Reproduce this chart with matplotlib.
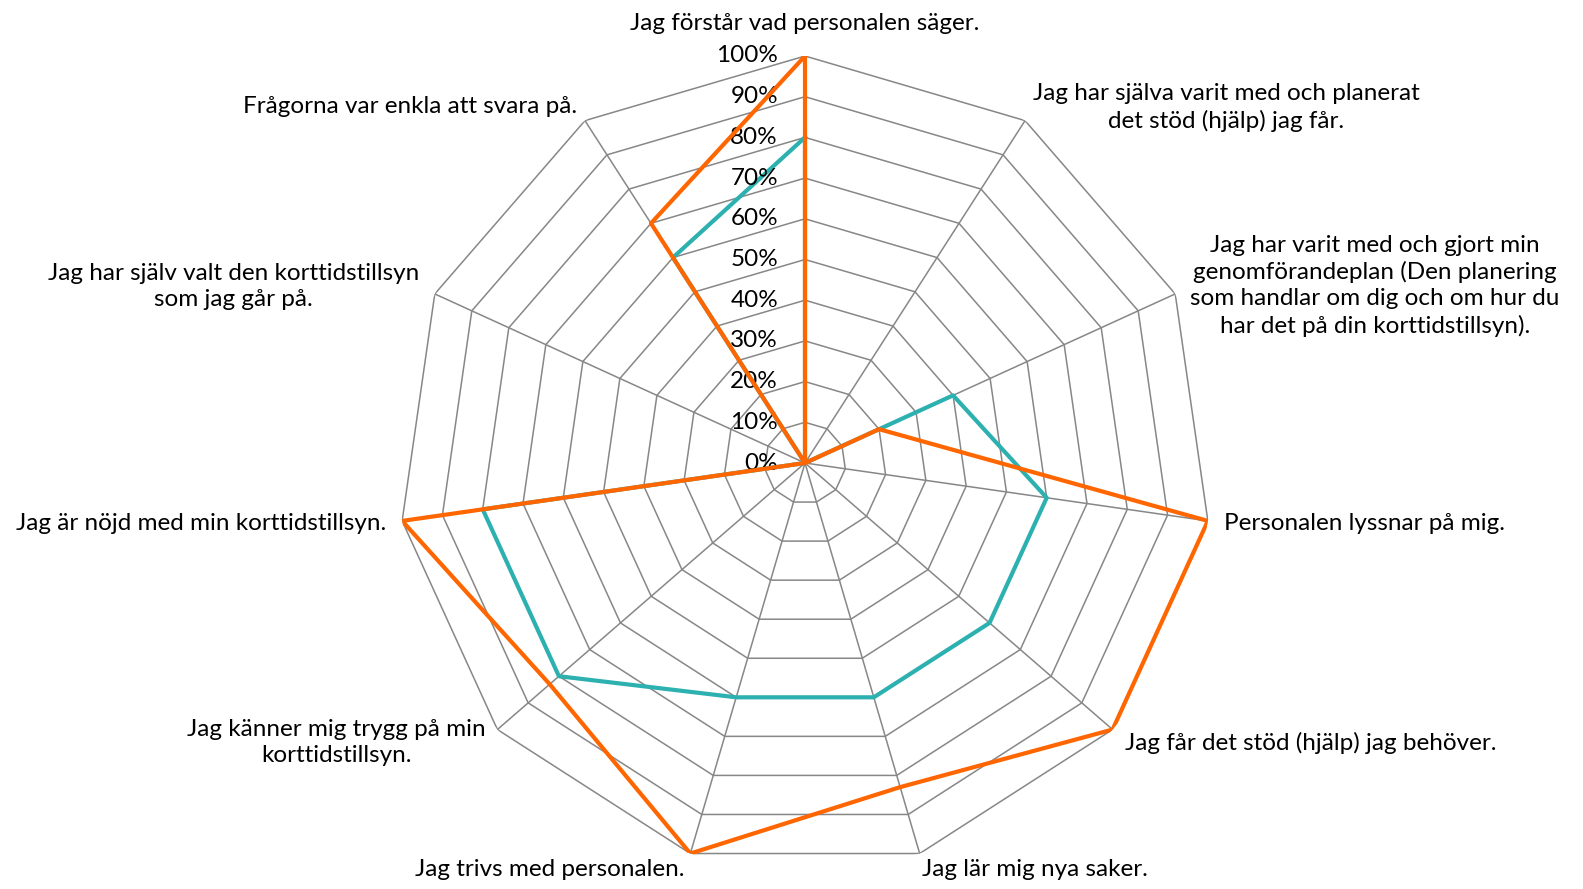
import numpy as np
import matplotlib
matplotlib.use("Agg")
import matplotlib.pyplot as plt

plt.rcParams['font.family'] = ['Lato', 'DejaVu Sans']

# categories, clockwise from the top
categories = [
    "Jag förstår vad personalen säger.",
    "Jag har själva varit med och planerat\ndet stöd (hjälp) jag får.",
    "Jag har varit med och gjort min\ngenomförandeplan (Den planering\nsom handlar om dig och om hur du\nhar det på din korttidstillsyn).",
    "Personalen lyssnar på mig.",
    "Jag får det stöd (hjälp) jag behöver.",
    "Jag lär mig nya saker.",
    "Jag trivs med personalen.",
    "Jag känner mig trygg på min\nkorttidstillsyn.",
    "Jag är nöjd med min korttidstillsyn.",
    "Jag har själv valt den korttidstillsyn\nsom jag går på.",
    "Frågorna var enkla att svara på.",
]

teal_vals = [0.80, 0.0, 0.40, 0.60, 0.60, 0.60, 0.60, 0.80, 0.80, 0.0, 0.60]
orange_vals = [1.00, 0.0, 0.20, 1.00, 1.00, 0.83, 1.00, 0.83, 1.00, 0.0, 0.70]

tick_vals = [0.0, 0.1, 0.2, 0.3, 0.4, 0.5, 0.6, 0.7, 0.8, 0.9, 1.0]
tick_labels = ["0%", "10%", "20%", "30%", "40%", "50%", "60%", "70%", "80%", "90%", "100%"]

# label offsets in pixels from the 100% vertex (dx, dy, ha)
label_offsets = [
    (0, 33, "center"),
    (8, 13, "left"),
    (15, 8, "left"),
    (16, -3, "left"),
    (12, -13, "left"),
    (2, -16, "left"),
    (-6, -16, "right"),
    (-12, -13, "right"),
    (-16, -3, "right"),
    (-16, 7, "right"),
    (-8, 14, "right"),
]

W, H = 1583, 889
cx, cy, R = 805, 463, 407  # wanted centre / radius in pixels (from top-left)

n = len(categories)
theta = np.arange(n) * 2 * np.pi / n
theta_closed = np.append(theta, theta[0])

fig = plt.figure(figsize=(W / 100, H / 100), dpi=100)
ax = fig.add_axes([(cx - R) / W, (H - cy - R) / H, 2 * R / W, 2 * R / H], projection="polar")
ax.set_theta_zero_location("N")
ax.set_theta_direction(-1)
ax.set_ylim(0, 1)
ax.grid(False)
ax.set_xticks([])
ax.set_yticks([])
ax.spines["polar"].set_visible(False)
ax.patch.set_visible(False)

# the polar axes does not fill its box exactly, so measure and correct
fig.canvas.draw()
c0 = ax.transData.transform((0, 0))
top = ax.transData.transform((0, 1))
r_now = top[1] - c0[1]
s = R / r_now
pos = ax.get_position()
new_w, new_h = pos.width * s, pos.height * s
ax.set_position([pos.x0, pos.y0, new_w, new_h])
fig.canvas.draw()
c0 = ax.transData.transform((0, 0))
dx = (cx - c0[0]) / W
dy = ((H - cy) - c0[1]) / H
ax.set_position([pos.x0 + dx, pos.y0 + dy, new_w, new_h])

grid_col = "#878787"
for r in tick_vals[1:]:
    ax.plot(theta_closed, [r] * (n + 1), color=grid_col, lw=1.1, zorder=1)
for t in theta:
    ax.plot([t, t], [0, 1], color=grid_col, lw=1.1, zorder=1)

ax.plot(theta_closed, np.append(teal_vals, teal_vals[0]), color="#2DB0B0", lw=3.0, zorder=3)
ax.plot(theta_closed, np.append(orange_vals, orange_vals[0]), color="#FF6600", lw=3.0, zorder=4)

# radial tick labels
for v, lab in zip(tick_vals, tick_labels):
    ax.annotate(lab, xy=(0, v), xytext=(-27, 0), textcoords="offset pixels",
                ha="right", va="center", fontsize=17.5, color="black")

# category labels
for t, lab, (ox, oy, ha) in zip(theta, categories, label_offsets):
    ax.annotate(lab, xy=(t, 1.0), xytext=(ox, oy), textcoords="offset pixels",
                ha=ha, va="center", multialignment="center", fontsize=17.5,
                linespacing=1.3, color="black", annotation_clip=False)

fig.savefig("out.png", dpi=100)
